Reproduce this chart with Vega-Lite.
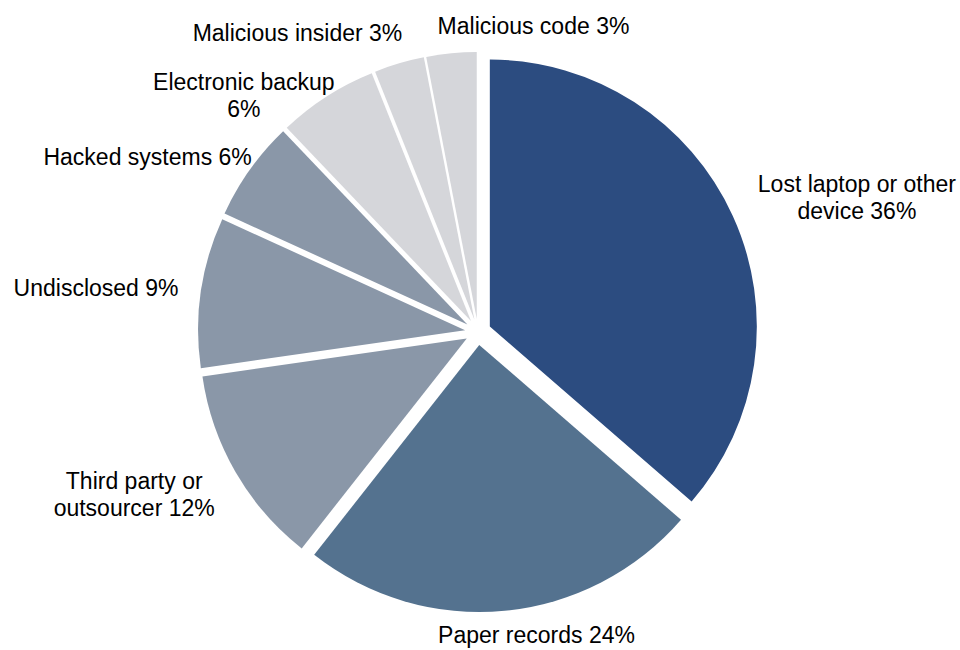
{
  "$schema": "https://vega.github.io/schema/vega-lite/v6.json",
  "width": 956,
  "height": 636,
  "autosize": {"type": "none"},
  "padding": {"left": 0, "top": 14, "right": 4, "bottom": 0},
  "background": "white",
  "config": {"view": {"stroke": null}},
  "data": {
    "values": [
      {"source": "Lost laptop or other device", "label": "Lost laptop or other\ndevice 36%", "pct": 36},
      {"source": "Paper records", "label": "Paper records 24%", "pct": 24},
      {"source": "Third party or outsourcer", "label": "Third party or\noutsourcer 12%", "pct": 12},
      {"source": "Undisclosed", "label": "Undisclosed 9%", "pct": 9},
      {"source": "Hacked systems", "label": "Hacked systems 6%", "pct": 6},
      {"source": "Electronic backup", "label": "Electronic backup\n6%", "pct": 6},
      {"source": "Malicious insider", "label": "Malicious insider 3%", "pct": 3},
      {"source": "Malicious code", "label": "Malicious code 3%", "pct": 3}
    ]
  },
  "encoding": {
    "theta": {"field": "pct", "type": "quantitative", "stack": true},
    "order": {"field": "pct", "type": "quantitative", "sort": "descending"}
  },
  "layer": [
    {
      "mark": {
        "type": "arc",
        "radius": 267,
        "x": {"expr": "width/2 + 13*sin(scale('theta', (datum.pct_start + datum.pct_end)/2))"},
        "y": {"expr": "height/2 - 13*cos(scale('theta', (datum.pct_start + datum.pct_end)/2))"}
      },
      "encoding": {
        "color": {
          "field": "source",
          "type": "nominal",
          "scale": {
            "domain": ["Lost laptop or other device", "Paper records", "Third party or outsourcer", "Undisclosed", "Hacked systems", "Electronic backup", "Malicious insider", "Malicious code"],
            "range": ["#2C4C80", "#54728F", "#8A97A8", "#8A97A8", "#8A97A8", "#D5D6DA", "#D5D6DA", "#D5D6DA"]
          },
          "legend": null
        }
      }
    },
    {
      "mark": {
        "type": "text",
        "radius": 300,
        "font": "Liberation Sans",
        "fontSize": 23,
        "lineHeight": 27,
        "lineBreak": "\n",
        "align": "center",
        "baseline": "middle",
        "color": "#000000",
        "dx": {"expr": "{'Lost laptop or other device': 106, 'Paper records': 30, 'Third party or outsourcer': -84, 'Undisclosed': -85, 'Hacked systems': -86, 'Electronic backup': -72, 'Malicious insider': -96, 'Malicious code': 84}[datum.source]"},
        "dy": {"expr": "{'Lost laptop or other device': -22, 'Paper records': 5, 'Third party or outsourcer': 0, 'Undisclosed': 0, 'Hacked systems': 0, 'Electronic backup': 3, 'Malicious insider': -10, 'Malicious code': -6}[datum.source]"}
      },
      "encoding": {
        "text": {"field": "label", "type": "nominal"}
      }
    }
  ]
}
